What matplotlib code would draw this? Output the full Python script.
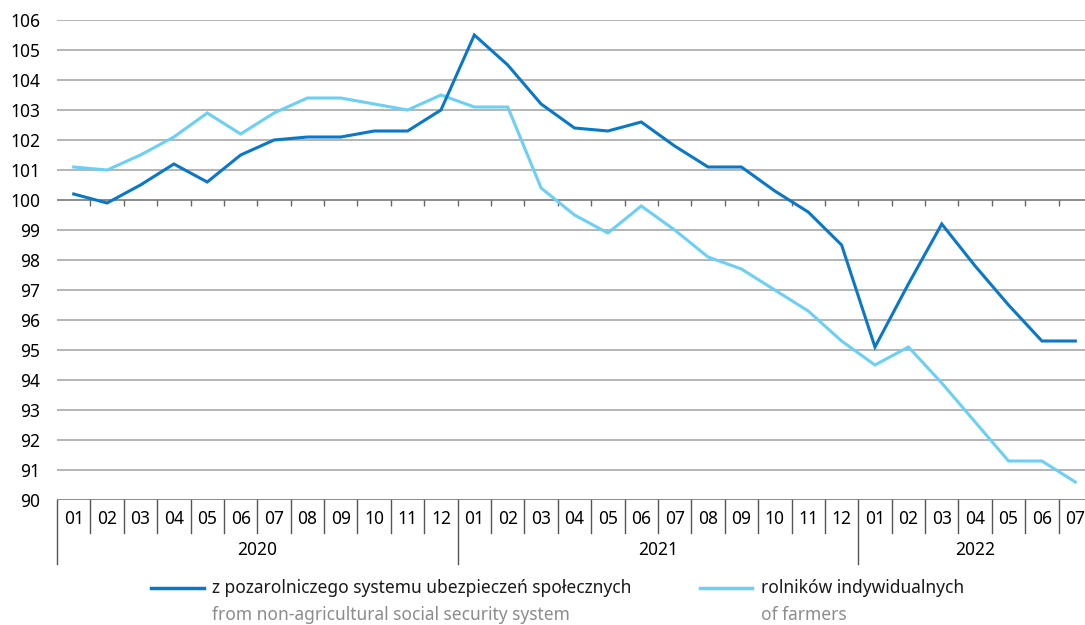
import matplotlib
matplotlib.use("Agg")
import matplotlib.pyplot as plt
from matplotlib.lines import Line2D
from matplotlib.transforms import blended_transform_factory

plt.rcParams["font.family"] = ["Noto Sans", "DejaVu Sans"]

months = ["01", "02", "03", "04", "05", "06", "07", "08", "09", "10", "11", "12"] * 2 + \
         ["01", "02", "03", "04", "05", "06", "07"]
years = ["2020", "2021", "2022"]
year_len = [12, 12, 7]

non_agri = [100.2, 99.9, 100.5, 101.2, 100.6, 101.5, 102.0, 102.1, 102.1, 102.3, 102.3, 103.0,
            105.5, 104.5, 103.2, 102.4, 102.3, 102.6, 101.8, 101.1, 101.1, 100.3, 99.6, 98.5,
            95.1, 97.2, 99.2, 97.8, 96.5, 95.3, 95.3]
farmers = [101.1, 101.0, 101.5, 102.1, 102.9, 102.2, 102.9, 103.4, 103.4, 103.2, 103.0, 103.5,
           103.1, 103.1, 100.4, 99.5, 98.9, 99.8, 99.0, 98.1, 97.7, 97.0, 96.3, 95.3,
           94.5, 95.1, 93.9, 92.6, 91.3, 91.3, 90.6]

label_pl = ["z pozarolniczego systemu ubezpieczeń społecznych", "rolników indywidualnych"]
label_en = ["from non-agricultural social security system", "of farmers"]

c_dark = "#0a78c8"
c_light = "#6ccff6"
c_grid = "#b4b4b4"

fig = plt.figure(figsize=(10.85, 6.25), dpi=100)
ax = fig.add_axes([57 / 1085, 0.2, 1035 / 1085, 0.768])

n = len(months)
x = [i + 0.5 for i in range(n)]

ax.set_xlim(0, n)
ax.set_ylim(90, 106)
ax.set_yticks(range(90, 107))
ax.tick_params(axis="y", length=0, pad=12, labelsize=12.5)
ax.set_xticks([])
for s in ax.spines.values():
    s.set_visible(False)

for v in range(90, 107):
    ax.axhline(v, color="#8a8a8a" if v in (90, 100) else c_grid, lw=1.4, zorder=1)

# small ticks on the 100 line
ax.vlines(range(1, n), 99.8, 100, color="#666666", lw=1.0, zorder=1)

ax.plot(x, farmers, color=c_light, lw=2.2, zorder=3, solid_joinstyle="miter")
ax.plot(x, non_agri, color=c_dark, lw=2.2, zorder=4, solid_joinstyle="miter")

# category axis below
tr = blended_transform_factory(ax.transData, ax.transAxes)
year_starts = [0, 12, 24]
for b in range(0, n + 1):
    bottom = -0.133 if b in year_starts else -0.069
    ax.add_artist(Line2D([b, b], [0, bottom], transform=tr, color="#555555", lw=1.0, clip_on=False))
for i, m in enumerate(months):
    ax.text(i + 0.5, -0.04, m, transform=tr, ha="center", va="center", fontsize=12.5)
for y0, yl, yr in zip(year_starts, year_len, years):
    ax.text(y0 + yl / 2, -0.104, yr, transform=tr, ha="center", va="center", fontsize=12.5)

# legend
for (x0, x1, tx), col, pl, en in zip([(151, 204, 212), (700, 752, 761)], [c_dark, c_light], label_pl, label_en):
    fig.add_artist(Line2D([x0 / 1085, x1 / 1085], [37 / 625, 37 / 625], color=col, lw=2.5))
    fig.text(tx / 1085, 37 / 625, pl, ha="left", va="center", fontsize=12.5, color="#1a1a1a")
    fig.text(tx / 1085, 10 / 625, en, ha="left", va="center", fontsize=12.5, color="#8c8c8c")

fig.savefig("out.png", dpi=100)
